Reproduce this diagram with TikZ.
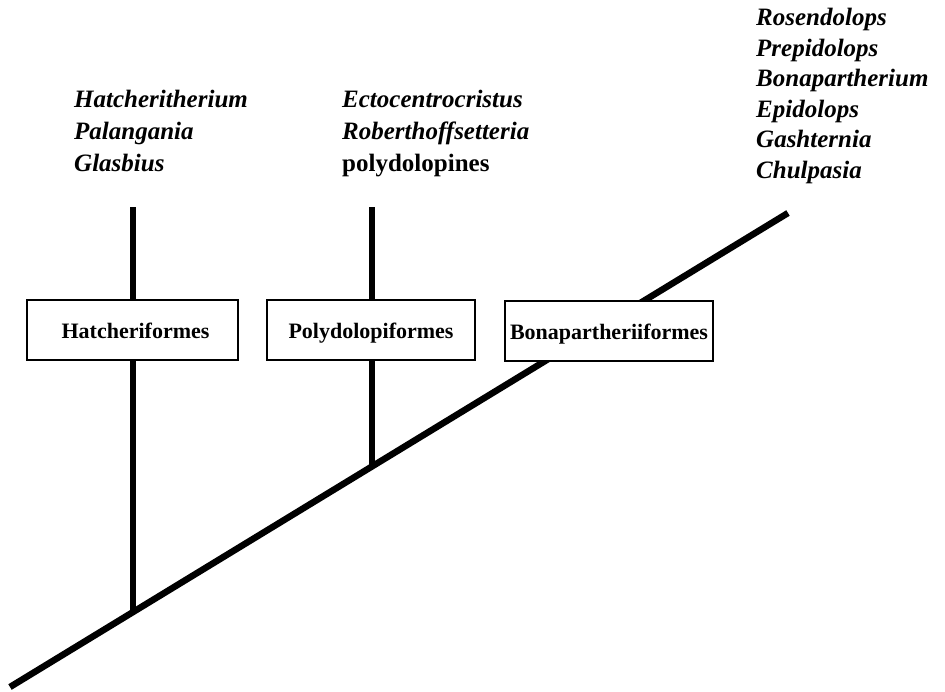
\documentclass[tikz,border=0pt]{standalone}
\usepackage{fontspec}
\setmainfont{Liberation Serif}
\usepackage{tikz}

\begin{document}
\begin{tikzpicture}[x=1pt, y=-1pt,
			every node/.style={inner sep=0pt},
			branch/.style={draw=black, line width=6.5pt},
			taxbox/.style={rectangle, draw=black, line width=1.8pt, fill=white, minimum height=60pt, text height=18pt, text depth=2pt, font=\bfseries\fontsize{22}{26}\selectfont},
			taxa/.style={anchor=north west, align=left, font=\bfseries\itshape\fontsize{25}{32}\selectfont}]
			\useasboundingbox (0,0) rectangle (945,691);
			
			\coordinate (root) at (10,687);
			\coordinate (tip) at (788,213);
			\coordinate (hj) at (133,612);
			\coordinate (ht) at (133,207);
			\coordinate (pj) at (372,466);
			\coordinate (pt) at (372,207);
			
			\path[branch] (root) -- (tip);
			\path[branch] (hj) -- (ht);
			\path[branch] (pj) -- (pt);
			
			\node[taxbox, minimum width=211pt] (hatch) at (132.5,330){\hspace*{6pt}Hatcheriformes};
			\node[taxbox, minimum width=208pt] (poly) at (371,330){Polydolopiformes};
			\node[taxbox, minimum width=208pt] (bona) at (609,331){Bonapartheriiformes};
			
			\node[taxa] (text1) at (74,90){Hatcheritherium\\Palangania\\Glasbius};
			\node[taxa] (text2) at (342,90){Ectocentrocristus\\Roberthoffsetteria\\\upshape polydolopines};
			\node[taxa, font=\bfseries\itshape\fontsize{25}{30.5}\selectfont] (text3) at (756,8){Rosendolops\\Prepidolops\\Bonapartherium\\Epidolops\\Gashternia\\Chulpasia};
			\end{tikzpicture}
\end{document}
